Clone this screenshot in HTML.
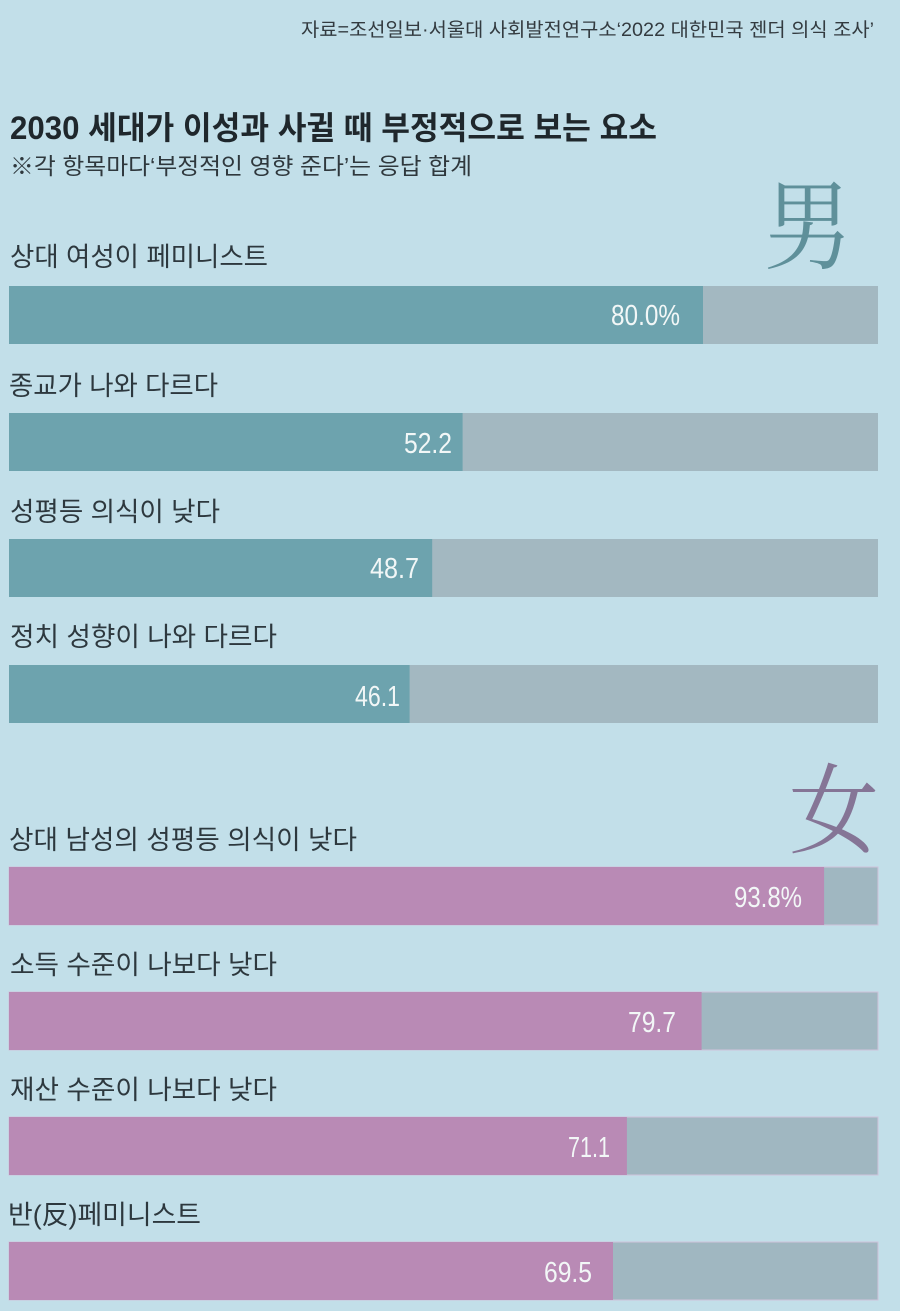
<!DOCTYPE html>
<html>
<head>
<meta charset="utf-8">
<style>
  html, body { margin:0; padding:0; background:#c2dfe9; }
  body { width:900px; height:1311px; overflow:hidden; }
  svg { display:block; }
  .kr { font-family: "Liberation Sans", "Noto Sans CJK KR", sans-serif; }
  .lbl { font-size:26.5px; fill:#2d383e; }
  .val { font-family: "Liberation Sans", sans-serif; font-size:29px; fill:#f2f7f7; }
  .han { font-family: "Noto Serif CJK SC", "Noto Serif CJK JP", serif; font-size:98px; }
</style>
</head>
<body>
<svg width="900" height="1311" viewBox="0 0 900 1311" xmlns="http://www.w3.org/2000/svg">
  <rect x="0" y="0" width="900" height="1311" fill="#c2dfe9"/>

  <!-- source -->
  <text class="kr" x="301" y="36" font-size="19" fill="#333b40" textLength="573" lengthAdjust="spacingAndGlyphs">자료=조선일보·서울대 사회발전연구소‘2022 대한민국 젠더 의식 조사’</text>

  <!-- title -->
  <text class="kr" x="10" y="139" font-size="32" font-weight="bold" fill="#1f272c" textLength="647" lengthAdjust="spacingAndGlyphs">2030 세대가 이성과 사귈 때 부정적으로 보는 요소</text>
  <text class="kr" x="10" y="174" font-size="23" fill="#2f383d" textLength="462" lengthAdjust="spacingAndGlyphs">※각 항목마다‘부정적인 영향 준다’는 응답 합계</text>

  <!-- 男 -->
  <text class="han" x="764" y="261" fill="#5f909a" textLength="88" lengthAdjust="spacingAndGlyphs">男</text>

  <!-- Male bars -->
  <text class="kr lbl" x="10" y="266" textLength="258" lengthAdjust="spacingAndGlyphs">상대 여성이 페미니스트</text>
  <rect x="9" y="286" width="869" height="58" fill="#a3b8c1"/>
  <rect x="9" y="286" width="694" height="58" fill="#6da3ae"/>
  <text class="val" x="611" y="325" textLength="69" lengthAdjust="spacingAndGlyphs">80.0%</text>

  <text class="kr lbl" x="9" y="395" textLength="209" lengthAdjust="spacingAndGlyphs">종교가 나와 다르다</text>
  <rect x="9" y="413" width="869" height="58" fill="#a3b8c1"/>
  <rect x="9" y="413" width="453.6" height="58" fill="#6da3ae"/>
  <text class="val" x="404" y="453" textLength="48" lengthAdjust="spacingAndGlyphs">52.2</text>

  <text class="kr lbl" x="10" y="521" textLength="210" lengthAdjust="spacingAndGlyphs">성평등 의식이 낮다</text>
  <rect x="9" y="539" width="869" height="58" fill="#a3b8c1"/>
  <rect x="9" y="539" width="423.2" height="58" fill="#6da3ae"/>
  <text class="val" x="370" y="578" textLength="49" lengthAdjust="spacingAndGlyphs">48.7</text>

  <text class="kr lbl" x="10" y="646" textLength="267" lengthAdjust="spacingAndGlyphs">정치 성향이 나와 다르다</text>
  <rect x="9" y="665" width="869" height="58" fill="#a3b8c1"/>
  <rect x="9" y="665" width="400.6" height="58" fill="#6da3ae"/>
  <text class="val" x="355" y="706" textLength="45" lengthAdjust="spacingAndGlyphs">46.1</text>

  <!-- 女 -->
  <text class="han" x="789" y="845" fill="#857596" textLength="90" lengthAdjust="spacingAndGlyphs">女</text>

  <!-- Female bars -->
  <text class="kr lbl" x="9" y="849" textLength="348" lengthAdjust="spacingAndGlyphs">상대 남성의 성평등 의식이 낮다</text>
  <rect x="9" y="867" width="869" height="58" fill="#a0b7c1" stroke="#cfc3da" stroke-width="1"/>
  <rect x="9" y="867" width="815.1" height="58" fill="#b98ab5"/>
  <text class="val" x="734" y="907" textLength="68" lengthAdjust="spacingAndGlyphs">93.8%</text>

  <text class="kr lbl" x="10" y="974" textLength="267" lengthAdjust="spacingAndGlyphs">소득 수준이 나보다 낮다</text>
  <rect x="9" y="992" width="869" height="58" fill="#a0b7c1" stroke="#cfc3da" stroke-width="1"/>
  <rect x="9" y="992" width="692.6" height="58" fill="#b98ab5"/>
  <text class="val" x="628" y="1032" textLength="48" lengthAdjust="spacingAndGlyphs">79.7</text>

  <text class="kr lbl" x="10" y="1099" textLength="267" lengthAdjust="spacingAndGlyphs">재산 수준이 나보다 낮다</text>
  <rect x="9" y="1117" width="869" height="58" fill="#a0b7c1" stroke="#cfc3da" stroke-width="1"/>
  <rect x="9" y="1117" width="617.9" height="58" fill="#b98ab5"/>
  <text class="val" x="568" y="1157" textLength="42" lengthAdjust="spacingAndGlyphs">71.1</text>

  <text class="kr lbl" x="8" y="1224" textLength="193" lengthAdjust="spacingAndGlyphs">반(反)페미니스트</text>
  <rect x="9" y="1242" width="869" height="58" fill="#a0b7c1" stroke="#cfc3da" stroke-width="1"/>
  <rect x="9" y="1242" width="604" height="58" fill="#b98ab5"/>
  <text class="val" x="544" y="1282" textLength="48" lengthAdjust="spacingAndGlyphs">69.5</text>
</svg>
</body>
</html>
